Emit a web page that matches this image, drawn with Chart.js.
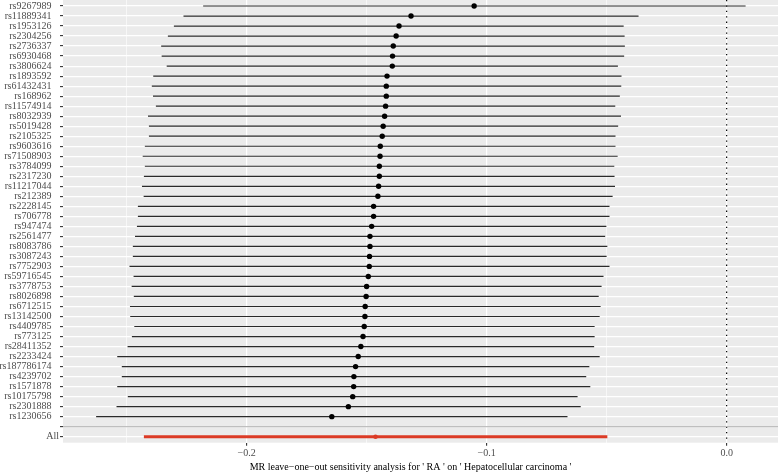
<!DOCTYPE html>
<html>
<head>
<meta charset="utf-8">
<script src="https://cdn.jsdelivr.net/npm/chart.js@4"></script>
<style>
  html, body { margin: 0; padding: 0; background: #fff; }
</style>
</head>
<body>
<canvas id="chart" width="778" height="474"></canvas>
<script>
// leave-one-out results
var snps = ['rs9267989','rs11889341','rs1953126','rs2304256','rs2736337','rs6930468','rs3806624',
  'rs1893592','rs61432431','rs168962','rs11574914','rs8032939','rs5019428','rs2105325','rs9603616',
  'rs71508903','rs3784099','rs2317230','rs11217044','rs212389','rs2228145','rs706778','rs947474',
  'rs2561477','rs8083786','rs3087243','rs7752903','rs59716545','rs3778753','rs8026898','rs6712515',
  'rs13142500','rs4409785','rs773125','rs28411352','rs2233424','rs187786174','rs4239702','rs1571878',
  'rs10175798','rs2301888','rs1230656'];
var b = [-0.1052,-0.1315,-0.1365,-0.1377,-0.1389,-0.1392,-0.1393,-0.1415,-0.1418,-0.1418,-0.1421,
  -0.1425,-0.1431,-0.1435,-0.1443,-0.1444,-0.1447,-0.1447,-0.1450,-0.1453,-0.1471,-0.1471,-0.1479,
  -0.1486,-0.1486,-0.1488,-0.1489,-0.1493,-0.1500,-0.1502,-0.1506,-0.1507,-0.1510,-0.1515,-0.1524,
  -0.1535,-0.1546,-0.1553,-0.1554,-0.1558,-0.1576,-0.1645];
var lo = [-0.2181,-0.2263,-0.2303,-0.2328,-0.2356,-0.2354,-0.2333,-0.2389,-0.2395,-0.2390,-0.2378,
  -0.2411,-0.2407,-0.2407,-0.2424,-0.2433,-0.2424,-0.2428,-0.2436,-0.2429,-0.2453,-0.2453,-0.2457,
  -0.2465,-0.2474,-0.2474,-0.2488,-0.2471,-0.2479,-0.2470,-0.2486,-0.2485,-0.2468,-0.2478,-0.2496,
  -0.2539,-0.2520,-0.2520,-0.2539,-0.2495,-0.2542,-0.2627];
var hi = [0.0079,-0.0367,-0.0429,-0.0425,-0.0424,-0.0427,-0.0453,-0.0438,-0.0439,-0.0445,-0.0464,
  -0.0440,-0.0452,-0.0463,-0.0463,-0.0454,-0.0468,-0.0467,-0.0465,-0.0475,-0.0488,-0.0488,-0.0501,
  -0.0506,-0.0497,-0.0500,-0.0488,-0.0513,-0.0521,-0.0533,-0.0525,-0.0529,-0.0550,-0.0550,-0.0552,
  -0.0529,-0.0572,-0.0585,-0.0568,-0.0621,-0.0608,-0.0663];
var allB = -0.1463, allLo = -0.2428, allHi = -0.0497;

var rowLabels = snps.concat(['', 'All']);
var xTicks = [-0.25, -0.2, -0.15, -0.1, -0.05, 0.0];
var xMin = -0.2765, xMax = 0.0214;
var yMin = -0.6, yMax = rowLabels.length - 0.4;
var blankRow = snps.length, allRow = snps.length + 1;
var xTitle = "MR leave\u2212one\u2212out sensitivity analysis for ' RA ' on ' Hepatocellular carcinoma '";

var serif = '"Liberation Serif", "Times New Roman", serif';

function isMajor(v) {
  return Math.abs(v * 10 - Math.round(v * 10)) < 1e-6;
}

var segData = [];
snps.forEach(function(s, i){
  segData.push({x: lo[i], y: i});
  segData.push({x: hi[i], y: i});
  segData.push({x: hi[i], y: null});
});

var panelBg = {
  id: 'panelBg',
  beforeDraw: function(chart){
    var a = chart.chartArea, ctx = chart.ctx;
    ctx.save();
    ctx.fillStyle = '#ebebeb';
    ctx.fillRect(a.left, a.top, a.right - a.left, a.bottom - a.top);
    ctx.restore();
  },
  afterDraw: function(chart){
    // x axis title, sits a little left of the panel centre in the original
    var a = chart.chartArea, ctx = chart.ctx;
    ctx.save();
    ctx.fillStyle = '#000';
    ctx.font = '10px ' + serif;
    ctx.textAlign = 'center';
    ctx.textBaseline = 'middle';
    ctx.fillText(xTitle, (a.left + a.right) / 2 - 10, 467);
    ctx.restore();
  }
};

new Chart(document.getElementById('chart').getContext('2d'), {
  type: 'scatter',
  data: {
    datasets: [{
      data: snps.map(function(s, i){ return {x: b[i], y: i}; }),
      pointRadius: 2.7, pointHoverRadius: 2.7,
      backgroundColor: '#000', borderWidth: 0
    }, {
      data: [{x: allB, y: allRow}],
      pointRadius: 2.3, pointHoverRadius: 2.3,
      backgroundColor: '#dc3b26', borderWidth: 0
    }, {
      data: segData,
      showLine: true, spanGaps: false,
      pointRadius: 0, borderColor: '#2a2a2a', borderWidth: 1.2
    }, {
      data: [{x: allLo, y: allRow}, {x: allHi, y: allRow}],
      showLine: true, pointRadius: 0,
      borderColor: '#dc3b26', borderWidth: 3, borderCapStyle: 'butt'
    }, {
      data: [{x: xMin, y: blankRow}, {x: xMax, y: blankRow}],
      showLine: true, pointRadius: 0,
      borderColor: '#bebebe', borderWidth: 1.1
    }, {
      data: [{x: 0, y: yMin}, {x: 0, y: yMax}],
      showLine: true, pointRadius: 0,
      borderColor: '#000', borderWidth: 1.2, borderDash: [1.3, 4.1]
    }]
  },
  options: {
    responsive: false,
    animation: false,
    layout: { padding: 0, autoPadding: false },
    plugins: {
      legend: { display: false },
      tooltip: { enabled: false }
    },
    scales: {
      x: {
        type: 'linear',
        min: xMin, max: xMax,
        afterBuildTicks: function(scale){
          scale.ticks = xTicks.map(function(v){ return {value: v}; });
        },
        afterFit: function(scale){
          scale.height = 31.3;
          scale.paddingLeft = 0; scale.paddingRight = 0;
        },
        border: { display: false },
        grid: {
          color: '#ffffff',
          lineWidth: function(c){ return isMajor(c.tick.value) ? 1.2 : 0.6; },
          tickLength: 3,
          tickColor: function(c){ return isMajor(c.tick.value) ? '#333333' : 'rgba(0,0,0,0)'; },
          tickWidth: 1.1
        },
        ticks: {
          autoSkip: false,
          maxRotation: 0,
          padding: 2,
          color: '#4d4d4d',
          font: { family: serif, size: 10 },
          callback: function(v){
            if (!isMajor(v)) return '';
            var s = Math.abs(v).toFixed(1);
            return v < -1e-9 ? '\u2212' + s : s;
          }
        }
      },
      y: {
        type: 'linear',
        reverse: true,
        min: yMin, max: yMax,
        afterBuildTicks: function(scale){
          scale.ticks = rowLabels.map(function(l, i){ return {value: i}; });
        },
        afterFit: function(scale){
          scale.width = 63;
          scale.paddingTop = 0; scale.paddingBottom = 0;
        },
        border: { display: false },
        grid: {
          color: '#ffffff',
          lineWidth: 1.2,
          tickLength: 3,
          tickColor: '#333333',
          tickWidth: 1.1
        },
        ticks: {
          autoSkip: false,
          padding: 1,
          color: '#4d4d4d',
          font: { family: serif, size: 10 },
          callback: function(v){
            var l = rowLabels[v];
            return v < snps.length ? l + '   ' : l;
          }
        }
      }
    }
  },
  plugins: [panelBg]
});
</script>
</body>
</html>
